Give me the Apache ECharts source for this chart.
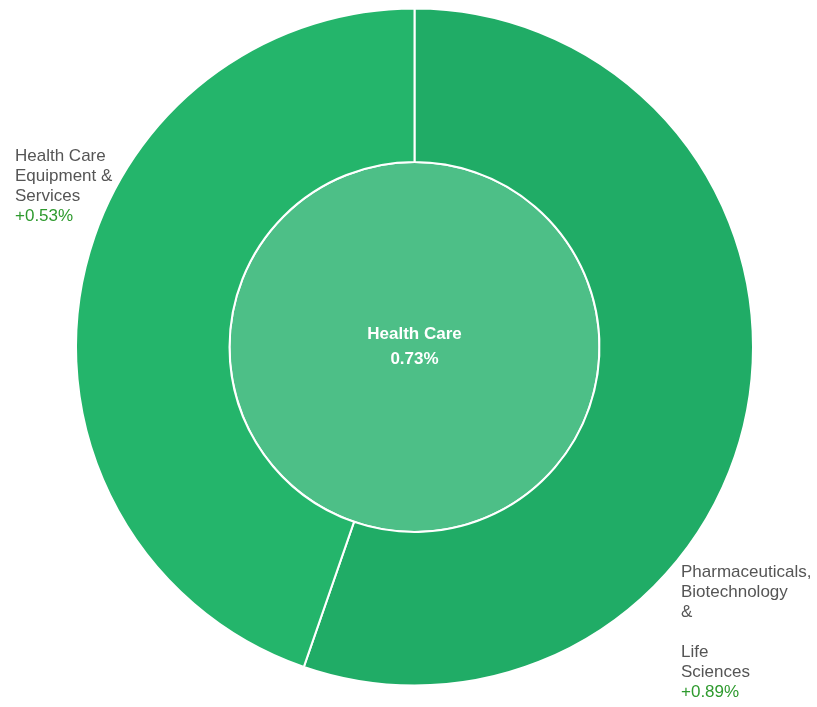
<!DOCTYPE html>
<html>
<head>
<meta charset="utf-8">
<script src="https://cdn.jsdelivr.net/npm/echarts@6/dist/echarts.min.js"></script>
<style>
html,body{margin:0;padding:0;background:#fff;}
#chart{width:817px;height:707px;}
</style>
</head>
<body>
<div id="chart"></div>
<script>
// Data
var rootName = 'Health Care';
var rootChange = '0.73%';
var sectorNames = ['Pharmaceuticals,\nBiotechnology\n&\n\nLife\nSciences', 'Health Care\nEquipment &\nServices'];
var sectorWeights = [55.3, 44.7];
var sectorChanges = ['+0.89%', '+0.53%'];

var sectorColors = ['#20ac66', '#24b56b'];
var labelPos = [
  {x: 681, y: 562},
  {x: 15, y: 146}
];

var chart = echarts.init(document.getElementById('chart'), null, {renderer: 'canvas'});

var outerData = sectorNames.map(function (n, i) {
  return {
    name: n,
    value: sectorWeights[i],
    change: sectorChanges[i],
    itemStyle: {color: sectorColors[i]}
  };
});

chart.setOption({
  animation: false,
  series: [
    {
      type: 'pie',
      center: [414.5, 347],
      radius: [0, 185],
      silent: true,
      startAngle: 90,
      itemStyle: {color: '#4dbf87', borderColor: '#ffffff', borderWidth: 2},
      label: {
        show: true,
        position: 'center',
        formatter: function () { return rootName + '\n' + rootChange; },
        color: '#ffffff',
        fontFamily: 'Arial, "Liberation Sans", sans-serif',
        fontWeight: 'bold',
        fontSize: 17,
        lineHeight: 25
      },
      labelLine: {show: false},
      data: [{name: rootName, value: 1}]
    },
    {
      type: 'pie',
      center: [414.5, 347],
      radius: [185, 338.5],
      startAngle: 90,
      clockwise: true,
      silent: true,
      avoidLabelOverlap: false,
      itemStyle: {borderColor: '#ffffff', borderWidth: 2},
      label: {
        show: true,
        position: 'outside',
        overflow: 'none',
        formatter: function (p) {
          return '{n|' + p.name.split('\n').join('}\n{n|') + '}\n{c|' + p.data.change + '}';
        },
        rich: {
          n: {color: '#555555', fontSize: 17, lineHeight: 20, fontFamily: 'Arial, "Liberation Sans", sans-serif', align: 'left'},
          c: {color: '#2e9a2e', fontSize: 17, lineHeight: 20, fontFamily: 'Arial, "Liberation Sans", sans-serif', align: 'left'}
        }
      },
      labelLine: {show: false},
      labelLayout: function (params) {
        var p = labelPos[params.dataIndex];
        return {x: p.x, y: p.y, align: 'left', verticalAlign: 'top', hideOverlap: false};
      },
      data: outerData
    }
  ]
});
</script>
</body>
</html>
